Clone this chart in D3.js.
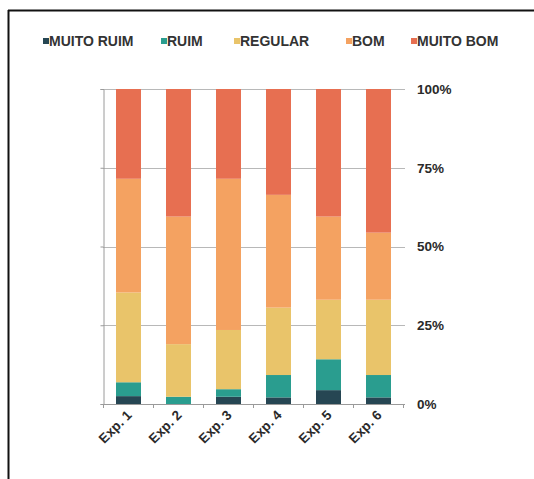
<!DOCTYPE html>
<html>
<head>
<meta charset="utf-8">
<script src="https://cdn.jsdelivr.net/npm/d3@7"></script>
<style>
  html, body { margin: 0; padding: 0; background: #fff; }
  svg { display: block; }
</style>
</head>
<body>
<svg id="chart" width="534" height="479"></svg>
<script>
// Survey answers per experiment, share of respondents (%)
const categories = ["Exp. 1", "Exp. 2", "Exp. 3", "Exp. 4", "Exp. 5", "Exp. 6"];
const seriesNames = ["MUITO RUIM", "RUIM", "REGULAR", "BOM", "MUITO BOM"];
const muitoRuim = [2.5, 0.0, 2.3, 2.1, 4.4, 2.1];
const ruim      = [4.4, 2.3, 2.4, 7.1, 9.8, 7.1];
const regular   = [28.5, 16.7, 18.8, 21.4, 18.9, 23.9];
const bom       = [36.1, 40.5, 48.0, 35.8, 26.4, 21.3];
const muitoBom  = [28.5, 40.5, 28.5, 33.6, 40.5, 45.6];
const yTicks = [0, 0.25, 0.5, 0.75, 1];
const colors = ["#264653", "#2a9d8f", "#e9c46a", "#f4a261", "#e76f51"];

const seriesValues = [muitoRuim, ruim, regular, bom, muitoBom];
const rows = categories.map((c, i) => {
  const r = { cat: c };
  seriesNames.forEach((s, k) => { r[s] = seriesValues[k][i]; });
  return r;
});

const svg = d3.select("#chart");
const font = "'Liberation Sans', Arial, sans-serif";

// frame lines
svg.append("line").attr("x1", 8).attr("x2", 534).attr("y1", 10.5).attr("y2", 10.5)
  .attr("stroke", "#111").attr("stroke-width", 2);
svg.append("line").attr("x1", 8.5).attr("x2", 8.5).attr("y1", 10).attr("y2", 479)
  .attr("stroke", "#111").attr("stroke-width", 2);

const x = d3.scaleBand().domain(categories).range([103.5, 403.5])
  .paddingInner(0.5).paddingOuter(0.25);
const y = d3.scaleLinear().domain([0, 1]).range([404, 89]);

// gridlines
svg.append("g").selectAll("line").data(yTicks.slice(1)).join("line")
  .attr("x1", 103).attr("x2", 405)
  .attr("y1", d => Math.round(y(d)) + 0.5).attr("y2", d => Math.round(y(d)) + 0.5)
  .attr("stroke", "#b8b8b8").attr("stroke-width", 1);

// stacked bars
const stack = d3.stack().keys(seriesNames).offset(d3.stackOffsetExpand);
const layers = stack(rows);
svg.append("g").selectAll("g").data(layers).join("g")
  .attr("fill", (d, i) => colors[i])
  .selectAll("rect").data(d => d).join("rect")
  .attr("x", d => x(d.data.cat))
  .attr("width", x.bandwidth())
  .attr("y", d => y(d[1]))
  .attr("height", d => Math.max(0, y(d[0]) - y(d[1])));

// left axis line with small ticks
const yAxisL = d3.axisLeft(y).tickValues(yTicks).tickSize(3).tickFormat("");
svg.append("g").attr("transform", "translate(103.5,0)").call(yAxisL)
  .call(g => g.selectAll("path,line").attr("stroke", "#9a9a9a"));

// right tick labels
const yAxisR = d3.axisRight(y).tickValues(yTicks).tickSize(0).tickPadding(0)
  .tickFormat(d3.format(".0%"));
svg.append("g").attr("transform", "translate(417,0)").call(yAxisR)
  .call(g => g.select(".domain").remove())
  .call(g => g.selectAll("text")
    .attr("font-family", font)
    .attr("font-size", 13.5).attr("font-weight", "bold").attr("fill", "#2a2a2a"));

// bottom axis
const xAxis = d3.axisBottom(x).tickSize(0).tickFormat("");
const gx = svg.append("g").attr("transform", "translate(0,404.5)").call(xAxis);
gx.select(".domain").attr("stroke", "#9a9a9a").attr("d", "M103,0H405");
const bounds = categories.map(c => x(c) - x.step() * x.paddingInner() / 2).concat([403.5]);
svg.append("g").selectAll("line").data(bounds).join("line")
  .attr("x1", d => d).attr("x2", d => d).attr("y1", 404).attr("y2", 408)
  .attr("stroke", "#9a9a9a");

svg.append("g").selectAll("text").data(categories).join("text")
  .attr("transform", d => `translate(${x(d) + x.bandwidth() / 2 + 4},${416}) rotate(-45)`)
  .attr("text-anchor", "end")
  .attr("font-family", font)
  .attr("font-size", 13.5).attr("font-weight", "bold").attr("fill", "#2a2a2a")
  .text(d => d);

// legend
const legendX = [43, 161, 234, 346, 411];
const lg = svg.append("g").selectAll("g").data(seriesNames).join("g")
  .attr("transform", (d, i) => `translate(${legendX[i]},41)`);
lg.append("rect").attr("x", 0).attr("y", -3).attr("width", 6).attr("height", 6)
  .attr("fill", (d, i) => colors[i]);
lg.append("text").attr("x", 6).attr("y", 5)
  .attr("font-family", font)
  .attr("font-size", 14).attr("font-weight", "bold").attr("fill", "#333")
  .text(d => d);
</script>
</body>
</html>
